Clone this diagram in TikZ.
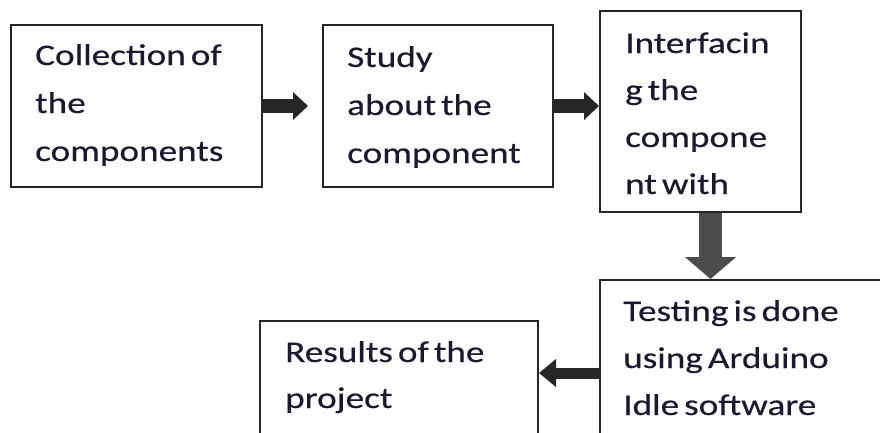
\documentclass[tikz,border=0pt]{standalone}
\usepackage{fontspec}
\setmainfont{Carlito}[FakeStretch=1.24, FakeBold=0.35, WordSpace=0.6]
\usetikzlibrary{arrows.meta}
\definecolor{txt}{rgb}{0.1,0.1,0.2}
\tikzset{
  box/.style={draw=black!85, line width=2pt, anchor=north west, inner sep=0pt},
  lbl/.style={anchor=base west, inner sep=0pt, text=txt, font=\fontsize{30}{47}\selectfont},
  fat/.style={line width=14pt, draw=black!85, -{Triangle[width=27pt,length=15pt]}},
  fatdown/.style={line width=23pt, draw=black!70, -{Triangle[width=50pt,length=22pt]}},
  fatleft/.style={line width=11pt, draw=black!85, -{Triangle[width=27pt,length=17pt]}},
}
\begin{document}
\begin{tikzpicture}[x=1pt,y=-1pt]
\useasboundingbox (0,0) rectangle (880,432);
\clip (0,0) rectangle (880,432);
% boxes
\node[box, minimum width=251pt, minimum height=162pt] (b1) at (10,24) {};
\node[box, minimum width=230pt, minimum height=162pt] (b2) at (322,24) {};
\node[box, minimum width=201pt, minimum height=201pt] (b3) at (599,10) {};
\node[box, minimum width=320pt, minimum height=186pt] (b4) at (599,279) {};
\node[box, minimum width=278pt, minimum height=150pt] (b5) at (259,320) {};
% texts
\node[lbl] (t1) at (35,65) {\vtop{\baselineskip=48pt\hbox{Collection of}\hbox{the}\hbox{components}}};
\node[lbl] (t2) at (347,67) {\vtop{\baselineskip=48pt\hbox{Study}\hbox{about the}\hbox{component}}};
\node[lbl] (t3) at (625,53) {\vtop{\baselineskip=47pt\hbox{Interfacin}\hbox{g the}\hbox{compone}\hbox{nt with}}};
\node[lbl] (t4) at (623,321) {\vtop{\baselineskip=47pt\hbox{Testing is done}\hbox{using Arduino}\hbox{Idle software}}};
\node[lbl] (t5) at (285,362) {\vtop{\baselineskip=46pt\hbox{Results of the}\hbox{project}}};
% arrows
\draw[fat, shorten >=14pt] (b1.east) -- (b2.west);
\draw[fat] (b2.east) -- (b2.east -| b3.west);
\draw[fatdown] ([xshift=10pt]b3.south) -- ([xshift=10pt]b3.south |- b4.north);
\draw[fatleft] (b4.west) -- (b4.west -| b5.east);
\end{tikzpicture}
\end{document}
